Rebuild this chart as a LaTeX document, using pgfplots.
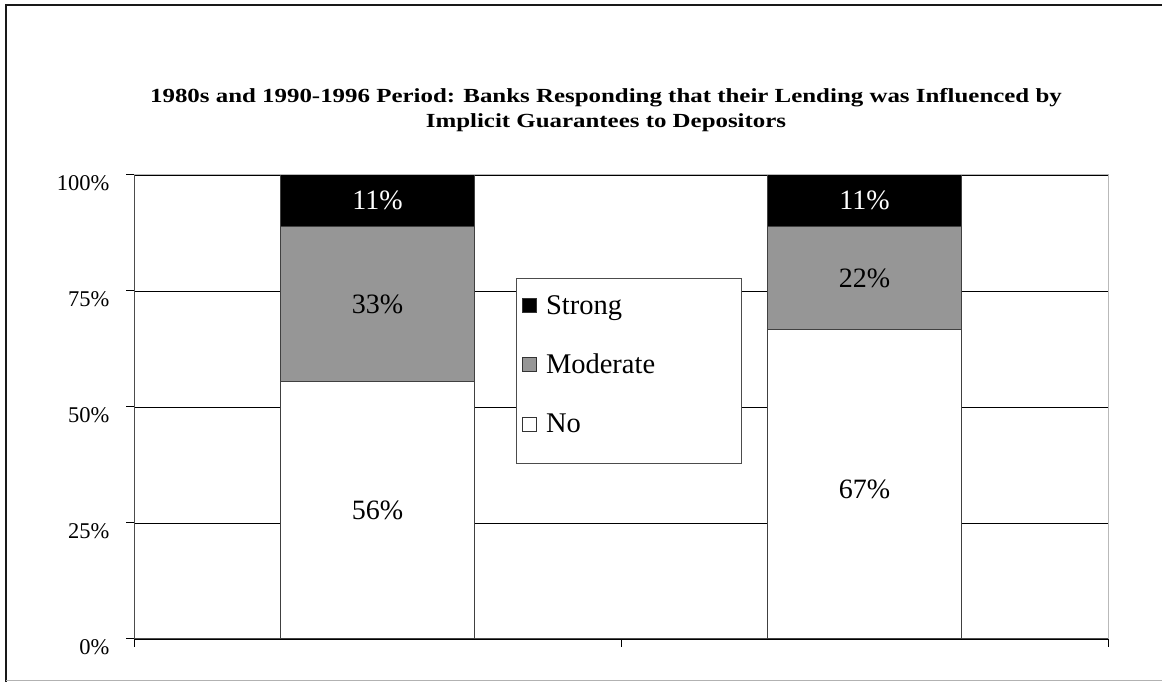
\documentclass[border=0pt]{standalone}
\usepackage{pgfplots}
\pgfplotsset{compat=1.18}
\usepackage{fontspec}
\setmainfont{Liberation Serif}
\definecolor{midgray}{RGB}{150,150,150}
\tikzset{barlab/.style={font=\fontsize{28}{30}\selectfont}}
\begin{document}
\begin{tikzpicture}[x=1pt,y=1pt]
\useasboundingbox (0,0) rectangle (1162,682);
\draw[line width=2pt, black!90] (6,0) -- (6,677) -- (1162,677);
\draw[gray!60, line width=1pt] (6,1) -- (1162,1);
\node[font=\bfseries\fontsize{20}{25}\selectfont, align=center, xscale=1.245] at (606,572)
  {1980s and 1990-1996 Period: Banks Responding that their Lending was Influenced by\\Implicit Guarantees to Depositors};
\begin{axis}[
  at={(134pt,43pt)}, anchor=south west, scale only axis,
  width=974pt, height=464pt,
  ybar stacked, bar width=194pt,
  xmin=-0.5, xmax=1.5, ymin=0, ymax=100,
  axis x line*=bottom, axis y line*=left,
  axis line style={draw=black!70, line width=1pt},
  xtick={-0.5,0.5,1.5}, xticklabels={},
  ytick={0,25,50,75,100}, yticklabels={0\%,25\%,50\%,75\%,100\%},
  tick align=outside, major tick length=8pt,
  tick style={black, line width=1pt},
  ymajorgrids, grid style={black, line width=0.8pt},
  /pgf/number format/assume math mode=true,
  tick label style={font=\fontsize{22.5}{24}\selectfont},
  yticklabel style={xshift=-13pt, yshift=-8pt},
  reverse legend,
  legend cell align=left,
  legend style={at={(axis cs:0.2844,77.59)}, anchor=north west, draw=none, fill=none,
    font=\fontsize{28.5}{30}\selectfont, inner xsep=6pt, inner ysep=14pt, row sep=34.5pt,
    /tikz/every odd column/.append style={column sep=7pt}},
  legend image code/.code={\draw[#1,draw=black!80,line width=0.8pt] (0pt,-7pt) rectangle (14pt,7pt);},
  after end axis/.code={
    \draw[gray!55, line width=1pt] (rel axis cs:0,1) -- (rel axis cs:1,1) -- (rel axis cs:1,0);
    \node[barlab, text=white] at (axis cs:0,94.45) {11\%};
    \node[barlab] at (axis cs:0,72.2) {33\%};
    \node[barlab] at (axis cs:0,27.8) {56\%};
    \node[barlab, text=white] at (axis cs:1,94.45) {11\%};
    \node[barlab] at (axis cs:1,77.8) {22\%};
    \node[barlab] at (axis cs:1,32.3) {67\%};
  },
]
\addplot[fill=white, draw=black!75, line width=1pt] coordinates {(0,55.6) (1,66.7)};
\addplot[fill=midgray, draw=black!75, line width=1pt] coordinates {(0,33.3) (1,22.2)};
\addplot[fill=black, draw=black!75, line width=1pt] coordinates {(0,11.1) (1,11.1)};
\legend{No,Moderate,Strong}
\draw[fill=white, draw=black!70, line width=1pt] (axis cs:0.2844,37.72) rectangle (axis cs:0.7464,77.59);
\end{axis}
\end{tikzpicture}
\end{document}
